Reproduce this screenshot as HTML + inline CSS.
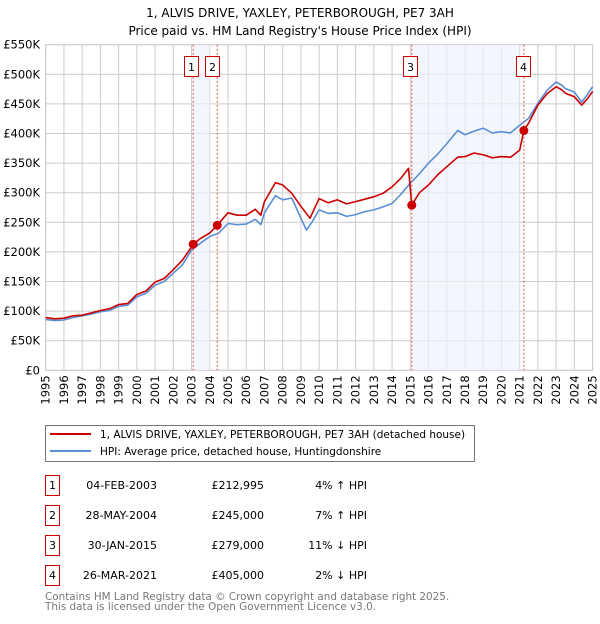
<!DOCTYPE html>
<html><head><meta charset="utf-8"><style>
body{margin:0;background:#fff;width:600px;height:620px;overflow:hidden;font-family:"DejaVu Sans","Liberation Sans",sans-serif;}
svg text{font-family:"DejaVu Sans","Liberation Sans",sans-serif;}
</style></head><body>
<svg id="chart" width="600" height="620" xmlns="http://www.w3.org/2000/svg">
<text x="300" y="17" text-anchor="middle" font-size="12">1, ALVIS DRIVE, YAXLEY, PETERBOROUGH, PE7 3AH</text>
<text x="300" y="35" text-anchor="middle" font-size="12">Price paid vs. HM Land Registry's House Price Index (HPI)</text>
<g id="grid"></g><g id="shade"></g><g id="series"></g><g id="axes"></g>
<g>
<rect x="45.5" y="425.5" width="429" height="36" fill="#fff" stroke="#777"/>
<line x1="50" y1="434" x2="91" y2="434" stroke="#cc0000" stroke-width="2"/>
<text x="100" y="438" font-size="10.5">1, ALVIS DRIVE, YAXLEY, PETERBOROUGH, PE7 3AH (detached house)</text>
<line x1="50" y1="451" x2="91" y2="451" stroke="#5b8fd4" stroke-width="2"/>
<text x="100" y="455" font-size="10.5">HPI: Average price, detached house, Huntingdonshire</text>
</g>
<g id="table" font-size="11"></g>
<text x="45" y="600" font-size="10.4" fill="#777">Contains HM Land Registry data © Crown copyright and database right 2025.</text>
<text x="45" y="610" font-size="10.4" fill="#777">This data is licensed under the Open Government Licence v3.0.</text>
</svg>
<script>
const yTicks=[0,50,100,150,200,250,300,350,400,450,500,550];
const yTickLabels=["£0","£50K","£100K","£150K","£200K","£250K","£300K","£350K","£400K","£450K","£500K","£550K"];
const years=[1995,1996,1997,1998,1999,2000,2001,2002,2003,2004,2005,2006,2007,2008,2009,2010,2011,2012,2013,2014,2015,2016,2017,2018,2019,2020,2021,2022,2023,2024,2025];
const hpiYears=[1995,1995.5,1996,1996.5,1997,1997.5,1998,1998.5,1999,1999.5,2000,2000.5,2001,2001.5,2002,2002.5,2003,2003.5,2004,2004.5,2005,2005.5,2006,2006.5,2006.8,2007,2007.6,2008,2008.5,2009,2009.3,2009.6,2010,2010.5,2011,2011.5,2012,2012.5,2013,2013.5,2014,2014.5,2015,2015.5,2016,2016.5,2017,2017.6,2018,2018.5,2019,2019.5,2020,2020.5,2021,2021.5,2022,2022.5,2023,2023.3,2023.5,2024,2024.4,2024.7,2025];
const hpiValues=[86,84,85,89,92,95,99,101,108,110,124,130,144,150,164,178,203,215,226,232,248,246,247,255,246,266,295,288,291,257,237,250,271,265,266,260,263,268,271,276,282,298,316,332,350,365,383,405,398,404,409,401,403,401,414,426,451,473,487,482,476,470,453,465,479];
const ppYears=[1995,1995.5,1996,1996.5,1997,1997.5,1998,1998.5,1999,1999.5,2000,2000.5,2001,2001.5,2002,2002.5,2003.1,2003.5,2004,2004.4,2005,2005.5,2006,2006.5,2006.8,2007,2007.6,2008,2008.5,2009,2009.5,2010,2010.5,2011,2011.5,2012,2012.5,2013,2013.5,2014,2014.5,2014.9,2015.08,2015.5,2016,2016.5,2017,2017.6,2018,2018.5,2019,2019.5,2020,2020.5,2021.0,2021.23,2021.5,2022,2022.5,2023,2023.3,2023.5,2024,2024.4,2024.7,2025];
const ppValues=[89,87,88,92,93,97,101,104,111,113,128,134,149,155,170,186,213,223,232,245,266,262,262,272,262,285,317,313,299,277,257,290,283,288,281,285,289,293,299,310,325,341,279,300,313,330,344,360,361,367,364,359,361,360,372,405,418,448,467,479,474,468,462,448,458,471];
const sales=[{n:"1",y:2003.09,v:212.995,date:"04-FEB-2003",price:"£212,995",hpi:"4% ↑ HPI"},{n:"2",y:2004.41,v:245,date:"28-MAY-2004",price:"£245,000",hpi:"7% ↑ HPI"},{n:"3",y:2015.08,v:279,date:"30-JAN-2015",price:"£279,000",hpi:"11% ↓ HPI"},{n:"4",y:2021.23,v:405,date:"26-MAR-2021",price:"£405,000",hpi:"2% ↓ HPI"}];
const shadeRanges=[[2003.09,2004.0],[2015.08,2021.0]];
const NS="http://www.w3.org/2000/svg";
const X0=45.7,X1=592.6,Y0=370.3,Y1=44.7;
const xs=y=>X0+(y-1995)/30*(X1-X0);
const ys=v=>Y0-v/550*(Y0-Y1);
function mk(t,a,p){const e=document.createElementNS(NS,t);for(const k in a)e.setAttribute(k,a[k]);p.appendChild(e);return e;}
const grid=document.getElementById('grid'),axes=document.getElementById('axes'),shade=document.getElementById('shade'),ser=document.getElementById('series'),tbl=document.getElementById('table');
yTicks.forEach((t,i)=>{
 const l=mk('line',{x1:X0,x2:X1,y1:ys(t),y2:ys(t),stroke:'#ccc'},grid);
 
 
 const tx=mk('text',{x:40,y:ys(t)+4,'text-anchor':'end','font-size':'11.5'},axes);tx.textContent=yTickLabels[i];
 
 
});
years.forEach(yr=>{
 const l=mk('line',{x1:xs(yr),x2:xs(yr),y1:Y1,y2:Y0,stroke:'#ccc'},grid);
 
 
 const tx=mk('text',{transform:`translate(${xs(yr)+4},${Y0+5}) rotate(-90)`,'text-anchor':'end','font-size':'11.5'},axes);tx.textContent=yr;
 
 
});
mk('rect',{x:X0,y:Y1,width:X1-X0,height:Y0-Y1,fill:'none',stroke:'#ccc'},grid);
shadeRanges.forEach(r=>{
 const s=mk('rect',{x:xs(r[0]),y:Y1,width:xs(r[1])-xs(r[0]),height:Y0-Y1,fill:'#eef3fc',opacity:0.7},shade);
 
 
});
function line(xa,va,col,name){
 const d=xa.map((x,i)=>(i?'L':'M')+xs(x).toFixed(1)+','+ys(va[i]).toFixed(1)).join('');
 const p=mk('path',{d:d,fill:'none',stroke:col,'stroke-width':1.6,'stroke-linejoin':'round'},ser);
 
 
}
line(hpiYears,hpiValues,'#5b8fd4','hpi-line');
line(ppYears,ppValues,'#cc0000','price-paid-line');
sales.forEach((s,i)=>{
 const v=mk('line',{x1:xs(s.y),x2:xs(s.y),y1:Y1,y2:Y0,stroke:'#e05050','stroke-dasharray':'2,2'},ser);
 
 
 const c=mk('circle',{cx:xs(s.y),cy:ys(s.v),r:4.5,fill:'#cc0000'},ser);
 
 
 const g=mk('g',{},ser);
 
 
 const lx=[184,205,403,516][i];
 mk('rect',{x:lx+0.5,y:56.5,width:14,height:20,fill:'#fff',stroke:'#cc0000'},g);
 const t=mk('text',{x:lx+7.5,y:71,'text-anchor':'middle','font-size':'11'},g);t.textContent=s.n;
 const ry=475+i*30;
 const row=mk('g',{},tbl);
 
 
 mk('rect',{x:45.5,y:ry+0.5,width:14,height:20,fill:'#fff',stroke:'#cc0000'},row);
 const a=mk('text',{x:52.5,y:ry+14,'text-anchor':'middle'},row);a.textContent=s.n;
 const b=mk('text',{x:157,y:ry+14,'text-anchor':'end'},row);b.textContent=s.date;
 const p=mk('text',{x:264,y:ry+14,'text-anchor':'end'},row);p.textContent=s.price;
 const h=mk('text',{x:367,y:ry+14,'text-anchor':'end'},row);h.textContent=s.hpi;
});
</script>
</body></html>
